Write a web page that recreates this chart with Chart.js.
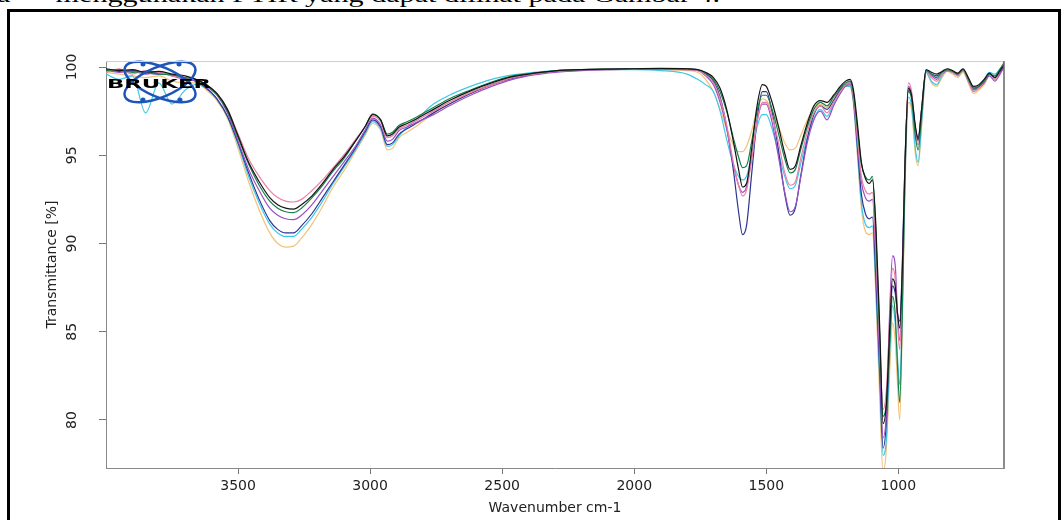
<!DOCTYPE html>
<html>
<head>
<meta charset="utf-8">
<script src="https://cdn.jsdelivr.net/npm/chart.js@4.4.1/dist/chart.umd.min.js"></script>
<style>
	html, body { margin: 0; padding: 0; background: #fff; }
	#wrap { position: relative; width: 1061px; height: 520px; overflow: hidden; }
	#frame { position: absolute; left: 7px; top: 9px; width: 1048px; height: 600px; border: 3px solid #000; }
	#caption { position: absolute; left: -3px; top: -18px; font: 22px "Liberation Serif"; white-space: pre; color: #000; transform: scaleX(1.37); transform-origin: 0 0; }
	#chart-box { position: absolute; left: 0; top: 0; width: 1061px; height: 520px; }
</style>
</head>
<body>
<div id="wrap">
	<div id="caption">a      menggunakan FTIR yang dapat dilihat pada Gambar 4.</div>
	<div id="frame"></div>
	<div id="chart-box"><canvas id="ftir-canvas"></canvas></div>
</div>
<script>
// wavenumber grid (cm-1) shared by all spectra
const wavenumbers = [
	4000, 3950, 3900, 3850, 3800, 3750, 3700, 3660, 3620, 3580,
	3540, 3500, 3460, 3420, 3380, 3350, 3320, 3290, 3260, 3220,
	3180, 3140, 3100, 3060, 3020, 2990, 2960, 2935, 2915, 2890,
	2860, 2820, 2760, 2700, 2620, 2540, 2460, 2380, 2300, 2200,
	2100, 2000, 1900, 1800, 1760, 1730, 1700, 1675, 1650, 1625,
	1605, 1590, 1575, 1555, 1535, 1515, 1500, 1480, 1455, 1430,
	1410, 1390, 1370, 1345, 1320, 1295, 1270, 1245, 1220, 1200,
	1183, 1170, 1155, 1140, 1125, 1110, 1098, 1085, 1070, 1058,
	1045, 1032, 1022, 1012, 1003, 995, 985, 975, 962, 950,
	935, 925, 912, 895, 875, 855, 835, 815, 795, 775,
	755, 735, 715, 695, 675, 655, 635, 615, 600,
];

const specBlack = [
	99.9, 99.8, 99.85, 99.7, 99.75, 99.6, 99.5, 99.3, 99.0, 98.5,
	97.6, 96.1, 94.6, 93.5, 92.6, 92.2, 92.0, 91.95, 92.2, 92.7,
	93.4, 94.2, 94.9, 95.7, 96.6, 97.3, 97.0, 96.1, 96.2, 96.6,
	96.8, 97.1, 97.6, 98.1, 98.65, 99.1, 99.45, 99.65, 99.78, 99.85,
	99.88, 99.9, 99.92, 99.9, 99.85, 99.7, 99.4, 98.8, 97.6, 95.8,
	94.2, 93.2, 93.4, 95.4, 97.8, 99.0, 98.9, 98.1, 96.7, 95.1,
	94.2, 94.4, 95.5, 96.8, 97.8, 98.1, 98.0, 98.4, 98.9, 99.2,
	99.3, 98.7, 96.8, 94.6, 93.7, 93.4, 93.6, 91.0, 85.0, 79.8,
	81.0, 85.5, 88.0, 87.6, 86.0, 85.2, 88.5, 94.5, 98.8, 98.4,
	96.6, 95.9, 97.6, 99.85, 99.7, 99.6, 99.75, 99.9, 99.8, 99.65,
	99.9, 99.4, 98.9, 99.0, 99.3, 99.65, 99.4, 99.8, 100.1,
];
const specGreen = [
	99.8, 99.85, 99.7, 99.75, 99.6, 99.55, 99.4, 99.3, 98.95, 98.45,
	97.5, 96.0, 94.5, 93.3, 92.4, 92.0, 91.8, 91.75, 92.0, 92.6,
	93.3, 94.1, 94.8, 95.7, 96.6, 97.35, 97.0, 96.2, 96.3, 96.7,
	96.9, 97.2, 97.7, 98.2, 98.7, 99.15, 99.5, 99.65, 99.78, 99.85,
	99.88, 99.9, 99.9, 99.88, 99.85, 99.65, 99.3, 98.6, 97.5, 96.0,
	94.9, 94.3, 94.4, 95.8, 97.5, 98.4, 98.4, 97.7, 96.3, 94.8,
	94.0, 94.2, 95.3, 96.6, 97.6, 98.0, 97.8, 98.3, 98.8, 99.1,
	99.2, 98.5, 96.5, 94.5, 93.8, 93.6, 93.8, 90.5, 84.5, 80.2,
	81.0, 84.5, 87.0, 86.0, 83.0, 81.0, 86.0, 93.8, 98.6, 98.2,
	96.0, 95.3, 97.2, 99.8, 99.6, 99.4, 99.7, 99.85, 99.75, 99.6,
	99.85, 99.3, 98.8, 98.9, 99.2, 99.6, 99.5, 99.9, 100.2,
];
const specPink = [
	99.7, 99.9, 99.6, 99.8, 99.7, 99.5, 99.4, 99.3, 99.0, 98.5,
	97.6, 96.2, 94.8, 93.8, 93.0, 92.6, 92.4, 92.35, 92.5, 93.0,
	93.6, 94.3, 95.0, 95.8, 96.6, 97.2, 96.9, 96.0, 96.1, 96.5,
	96.7, 97.0, 97.5, 98.0, 98.55, 99.0, 99.4, 99.6, 99.75, 99.85,
	99.85, 99.88, 99.9, 99.85, 99.8, 99.55, 99.1, 98.2, 96.7, 94.6,
	93.3, 92.7, 93.0, 94.8, 96.9, 98.0, 98.0, 97.3, 95.8, 94.0,
	93.3, 93.5, 94.8, 96.3, 97.4, 97.8, 97.4, 98.0, 98.6, 99.0,
	99.1, 98.3, 96.0, 93.8, 93.0, 92.8, 92.9, 89.5, 84.0, 80.6,
	81.8, 86.0, 88.6, 88.0, 85.5, 84.0, 87.5, 94.0, 99.1, 98.6,
	96.2, 95.6, 97.4, 99.8, 99.4, 99.2, 99.6, 99.85, 99.7, 99.5,
	99.8, 99.2, 98.6, 98.8, 99.2, 99.6, 99.3, 99.8, 100.3,
];
const specPurple = [
	99.8, 99.7, 99.75, 99.6, 99.7, 99.5, 99.3, 99.2, 98.9, 98.4,
	97.4, 95.8, 94.2, 93.0, 92.0, 91.6, 91.4, 91.35, 91.6, 92.2,
	93.0, 93.8, 94.6, 95.4, 96.4, 97.1, 96.7, 95.8, 95.9, 96.4,
	96.6, 96.9, 97.3, 97.8, 98.4, 98.9, 99.3, 99.55, 99.7, 99.8,
	99.85, 99.88, 99.88, 99.85, 99.8, 99.5, 99.0, 98.0, 96.5, 94.5,
	93.3, 92.9, 93.2, 94.9, 96.9, 97.9, 97.9, 97.0, 95.0, 92.9,
	91.8, 92.1, 93.7, 95.7, 97.0, 97.5, 97.0, 97.8, 98.5, 98.9,
	99.0, 98.2, 95.8, 93.5, 92.6, 92.4, 92.5, 89.0, 83.0, 79.0,
	80.5, 86.5, 89.3, 88.8, 86.0, 84.5, 88.0, 94.2, 98.9, 98.5,
	96.4, 95.8, 97.5, 99.75, 99.5, 99.3, 99.6, 99.8, 99.7, 99.55,
	99.8, 99.2, 98.7, 98.8, 99.1, 99.5, 99.2, 99.6, 100.0,
];
const specNavy = [
	99.85, 99.75, 99.8, 99.65, 99.6, 99.55, 99.35, 99.2, 98.8, 98.2,
	97.2, 95.7, 94.0, 92.5, 91.3, 90.8, 90.6, 90.6, 91.0, 91.7,
	92.6, 93.5, 94.4, 95.3, 96.3, 97.0, 96.6, 95.6, 95.7, 96.2,
	96.5, 96.85, 97.4, 97.9, 98.5, 99.0, 99.35, 99.6, 99.75, 99.82,
	99.86, 99.88, 99.9, 99.88, 99.8, 99.6, 99.2, 98.3, 96.6, 94.2,
	91.8, 90.5, 91.0, 94.0, 97.0, 98.6, 98.6, 97.6, 95.4, 92.8,
	91.6, 92.0, 93.8, 95.9, 97.3, 97.8, 97.6, 98.1, 98.7, 99.0,
	99.1, 98.2, 95.5, 92.8, 91.7, 91.4, 91.5, 88.0, 82.5, 78.4,
	80.0, 85.0, 87.6, 87.2, 86.0, 85.6, 88.8, 94.6, 98.7, 98.3,
	96.5, 96.0, 97.6, 99.8, 99.6, 99.5, 99.7, 99.85, 99.75, 99.6,
	99.85, 99.3, 98.8, 98.9, 99.2, 99.6, 99.4, 99.7, 100.0,
];
const specCyan = [
	99.6, 99.3, 99.5, 97.4, 99.1, 97.9, 98.7, 99.0, 98.8, 98.2,
	97.2, 95.6, 93.8, 92.3, 91.1, 90.6, 90.4, 90.4, 90.8, 91.5,
	92.4, 93.4, 94.3, 95.2, 96.2, 96.9, 96.5, 95.5, 95.6, 96.1,
	96.6, 97.1, 97.9, 98.4, 98.9, 99.3, 99.55, 99.7, 99.8, 99.85,
	99.85, 99.85, 99.8, 99.6, 99.3, 99.0, 98.6, 97.5, 95.9, 94.5,
	93.8, 93.6, 93.8, 95.0, 96.6, 97.3, 97.3, 96.6, 95.2, 93.8,
	93.1, 93.3, 94.5, 96.0, 97.1, 97.6, 97.2, 97.9, 98.5, 98.9,
	98.9, 98.0, 95.2, 92.3, 91.1, 90.9, 91.0, 87.5, 82.0, 78.0,
	79.0, 84.0, 86.5, 85.5, 83.5, 82.0, 86.5, 93.5, 98.3, 97.8,
	95.3, 94.6, 96.8, 99.7, 99.2, 99.0, 99.5, 99.8, 99.7, 99.5,
	99.8, 99.3, 98.7, 98.9, 99.3, 99.7, 99.6, 99.9, 100.2,
];
const specOrange = [
	99.7, 99.6, 99.5, 99.4, 99.5, 99.2, 99.1, 99.1, 98.7, 98.1,
	97.1, 95.4, 93.5, 91.9, 90.6, 90.0, 89.8, 89.85, 90.3, 91.1,
	92.1, 93.2, 94.1, 95.1, 96.1, 96.8, 96.4, 95.3, 95.4, 96.0,
	96.3, 96.7, 97.4, 97.9, 98.5, 99.0, 99.4, 99.6, 99.75, 99.85,
	99.87, 99.88, 99.85, 99.8, 99.7, 99.3, 98.6, 97.6, 96.5, 95.6,
	95.2, 95.2, 95.5, 96.4, 97.6, 98.2, 98.1, 97.6, 96.7, 95.7,
	95.3, 95.4, 96.1, 97.0, 97.6, 97.9, 97.7, 98.2, 98.7, 99.0,
	98.9, 97.9, 95.0, 92.0, 90.7, 90.5, 90.6, 87.0, 81.0, 77.0,
	78.5, 83.0, 85.5, 84.5, 82.0, 80.0, 85.5, 93.0, 98.0, 97.6,
	95.0, 94.4, 96.6, 99.7, 99.1, 98.9, 99.4, 99.75, 99.6, 99.4,
	99.7, 99.1, 98.5, 98.7, 99.0, 99.5, 99.3, 99.7, 100.0,
];

const xTicks = [3500, 3000, 2500, 2000, 1500, 1000];
const yTicks = [80, 85, 90, 95, 100];

// black first so it is drawn on top
const spectra = [
	{ values: specBlack, color: "#141414" },
	{ values: specGreen, color: "#17804a" },
	{ values: specPink, color: "#ec7fa6" },
	{ values: specPurple, color: "#9b4fc4" },
	{ values: specNavy, color: "#2b3590" },
	{ values: specCyan, color: "#3fc9e6" },
	{ values: specOrange, color: "#f2c27a" },
];

const boxLines = {
	id: "boxLines",
	afterDraw(chart) {
		const { ctx, chartArea: a } = chart;
		ctx.save();
		ctx.lineWidth = 1;
		ctx.strokeStyle = "#cfcfcf";
		ctx.beginPath();
		ctx.moveTo(a.left, a.top + 0.5);
		ctx.lineTo(a.right, a.top + 0.5);
		ctx.stroke();
		ctx.strokeStyle = "#666";
		ctx.lineWidth = 1.5;
		ctx.beginPath();
		ctx.moveTo(a.right, a.top);
		ctx.lineTo(a.right, a.bottom);
		ctx.stroke();
		ctx.restore();
	},
};

const brukerLogo = {
	id: "brukerLogo",
	afterDatasetsDraw(chart) {
		const ctx = chart.ctx;
		ctx.save();
		ctx.strokeStyle = "#1f55b8";
		ctx.fillStyle = "#1f55b8";
		ctx.lineWidth = 2.5;
		[0.4, -0.4].forEach((rot) => {
			ctx.beginPath();
			ctx.ellipse(160, 82, 38, 15, rot, 0, Math.PI * 2);
			ctx.stroke();
		});
		[[143, 64], [179, 64], [143, 100], [180, 100]].forEach(([x, y]) => {
			ctx.beginPath();
			ctx.arc(x, y, 2.5, 0, Math.PI * 2);
			ctx.fill();
		});
		ctx.fillStyle = "#000";
		ctx.font = "bold 13px 'DejaVu Sans'";
		const w = ctx.measureText("BRUKER").width;
		ctx.translate(107, 88);
		ctx.scale(104 / w, 1);
		ctx.fillText("BRUKER", 0, 0);
		ctx.restore();
	},
};

const tickFont = { family: "DejaVu Sans", size: 14 };

new Chart(document.getElementById("ftir-canvas"), {
	type: "line",
	data: {
		datasets: spectra.map((s) => ({
			data: wavenumbers.map((w, i) => ({ x: w, y: s.values[i] })),
			borderColor: s.color,
			borderWidth: 1.2,
			pointRadius: 0,
			fill: false,
			cubicInterpolationMode: "monotone",
		})),
	},
	options: {
		responsive: true,
		maintainAspectRatio: false,
		animation: false,
		layout: { padding: { left: 0, top: 61, right: 57, bottom: 0 } },
		plugins: {
			legend: { display: false },
			tooltip: { enabled: false },
		},
		scales: {
			x: {
				type: "linear",
				reverse: true,
				min: 600,
				max: 4000,
				afterBuildTicks: (scale) => {
					scale.ticks = xTicks.map((v) => ({ value: v }));
				},
				afterFit: (scale) => {
					scale.height = 52;
				},
				ticks: {
					callback: (v) => String(v),
					color: "#222",
					font: tickFont,
					padding: 4,
					maxRotation: 0,
					autoSkip: false,
				},
				grid: {
					drawOnChartArea: false,
					drawTicks: true,
					tickLength: 6,
					color: "#777",
				},
				border: { display: true, color: "#888" },
				title: {
					display: true,
					text: "Wavenumber cm-1",
					color: "#222",
					font: tickFont,
					padding: { top: 0, bottom: 3 },
				},
			},
			y: {
				min: 77.28,
				max: 100.34,
				afterBuildTicks: (scale) => {
					scale.ticks = yTicks.map((v) => ({ value: v }));
				},
				afterFit: (scale) => {
					scale.width = 106;
				},
				ticks: {
					callback: (v) => String(v),
					color: "#222",
					font: tickFont,
					minRotation: 90,
					maxRotation: 90,
					crossAlign: "center",
					padding: 13,
				},
				grid: {
					drawOnChartArea: false,
					drawTicks: true,
					tickLength: 7,
					color: "#777",
				},
				border: { display: true, color: "#888" },
				title: {
					display: true,
					text: "Transmittance [%]",
					color: "#222",
					font: tickFont,
					padding: { top: 44, bottom: 0 },
				},
			},
		},
	},
	plugins: [boxLines, brukerLogo],
});
</script>
</body>
</html>
